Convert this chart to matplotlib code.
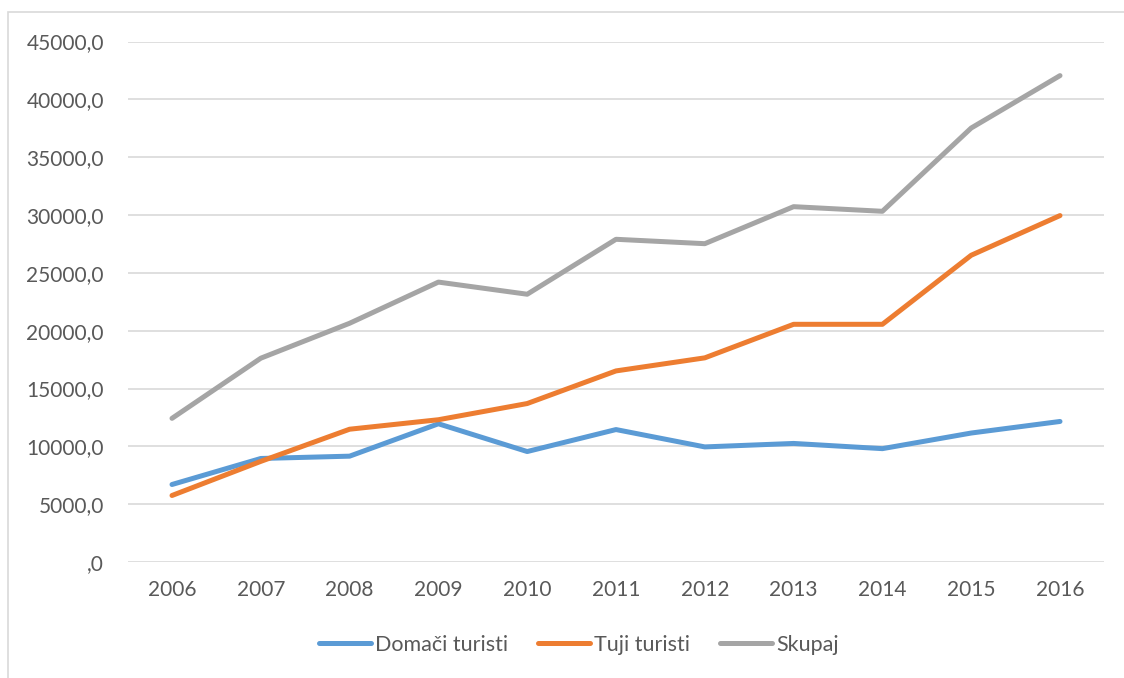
import matplotlib.pyplot as plt
from matplotlib.ticker import FuncFormatter
from matplotlib.patches import Rectangle

years = ['2006', '2007', '2008', '2009', '2010', '2011', '2012', '2013', '2014', '2015', '2016']
domaci = [6700, 8950, 9150, 11950, 9550, 11450, 9950, 10250, 9800, 11150, 12150]
tuji = [5750, 8700, 11480, 12300, 13700, 16520, 17650, 20550, 20550, 26520, 29950]
skupaj = [12420, 17620, 20640, 24200, 23150, 27900, 27520, 30720, 30320, 37520, 42050]
series_names = ['Domači turisti', 'Tuji turisti', 'Skupaj']
colors = ['#5B9BD5', '#ED7D31', '#A5A5A5']

plt.rcParams['font.family'] = ['Lato', 'DejaVu Sans']

fig = plt.figure(figsize=(11.24, 6.78), dpi=100)
ax = fig.add_axes([127.6 / 1124, 116 / 678, (1104.4 - 127.6) / 1124, (562 - 41.5) / 678])

# outer chart border like excel
fig.patches.append(Rectangle((8 / 1124, -0.05), 1.1, 1 - 12 / 678 + 0.05, transform=fig.transFigure,
                             fill=False, edgecolor='#D9D9D9', linewidth=1.2))

x = list(range(len(years)))
for vals, name, c in zip([domaci, tuji, skupaj], series_names, colors):
    ax.plot(x, vals, color=c, linewidth=3.6, label=name, solid_capstyle='round', solid_joinstyle='round')

ax.set_xlim(-0.5, len(years) - 0.5)
ax.set_ylim(0, 45000)
ax.set_yticks(range(0, 45001, 5000))
ax.yaxis.set_major_formatter(FuncFormatter(lambda v, p: ',0' if v == 0 else '%d,0' % v))
ax.set_xticks(x)
ax.set_xticklabels(years)

ax.grid(axis='y', color='#D9D9D9', linewidth=1.2)
ax.set_axisbelow(True)
for s in ax.spines.values():
    s.set_visible(False)
ax.tick_params(axis='both', length=0, labelsize=15, labelcolor='#595959')
ax.tick_params(axis='y', pad=17)
ax.tick_params(axis='x', pad=13)

fig.legend(loc='center', bbox_to_anchor=(579 / 1124, 1 - 645 / 678), ncol=3, frameon=False,
           fontsize=15.5, handlelength=2.4, columnspacing=1.4, handletextpad=0.2,
           labelcolor='#595959')

fig.savefig('out.png', dpi=100)
